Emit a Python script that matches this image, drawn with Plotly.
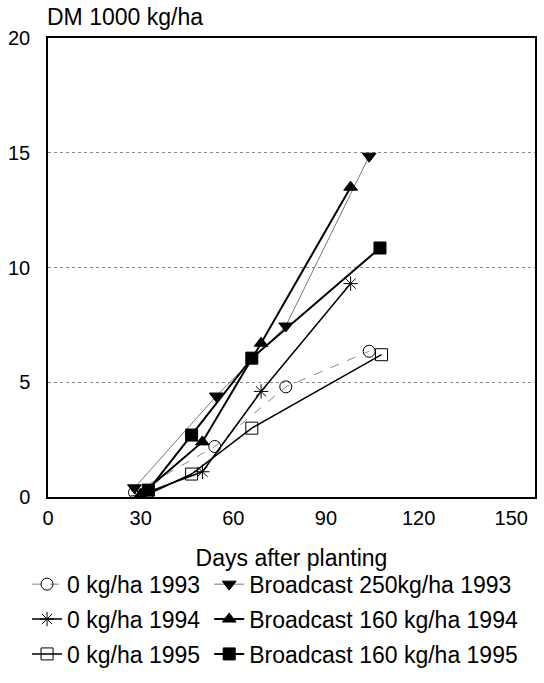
import plotly.graph_objects as go

# Data
days_0_1993 = [28, 54, 77, 104]
dm_0_1993 = [0.2, 2.2, 4.8, 6.35]
days_0_1994 = [29, 50, 69, 98]
dm_0_1994 = [0.05, 1.1, 4.6, 9.3]
days_0_1995 = [32, 46.5, 66, 108]
dm_0_1995 = [0.1, 1.0, 3.0, 6.2]
days_b250_1993 = [28, 54.5, 77, 104]
dm_b250_1993 = [0.4, 4.4, 7.45, 14.85]
days_b160_1994 = [30, 50, 69, 98]
dm_b160_1994 = [0.1, 2.4, 6.7, 13.5]
days_b160_1995 = [32.5, 46.5, 66, 107.5]
dm_b160_1995 = [0.3, 2.7, 6.05, 10.85]

x_ticks = [0, 30, 60, 90, 120, 150]
y_ticks = [0, 5, 10, 15, 20]

FONT = "Liberation Sans, Arial, sans-serif"

series = [
    ("0 kg/ha 1993", days_0_1993, dm_0_1993, "circle-open", dict(color="#888", width=1, dash="dash"), "legend"),
    ("Broadcast 250kg/ha 1993", days_b250_1993, dm_b250_1993, "triangle-down", dict(color="#777", width=1), "legend2"),
    ("0 kg/ha 1994", days_0_1994, dm_0_1994, "asterisk-open", dict(color="black", width=1.5), "legend3"),
    ("Broadcast 160 kg/ha 1994", days_b160_1994, dm_b160_1994, "triangle-up", dict(color="black", width=2), "legend4"),
    ("0 kg/ha 1995", days_0_1995, dm_0_1995, "square-open", dict(color="black", width=1.5), "legend5"),
    ("Broadcast 160 kg/ha 1995", days_b160_1995, dm_b160_1995, "square", dict(color="black", width=2), "legend6"),
]

fig = go.Figure()
for name, xs, ys, sym, line, lg in series:
    fig.add_trace(go.Scatter(
        x=xs, y=ys, name=name, mode="lines+markers",
        line=line,
        marker=dict(symbol=sym, size=12, color="black",
                    line=dict(color="black", width=1)),
        legend=lg,
    ))

leg_common = dict(orientation="h", xanchor="left", yanchor="middle",
                  font=dict(family=FONT, size=23, color="black"),
                  bgcolor="rgba(0,0,0,0)", itemwidth=30)

col1 = -0.043
col2 = 0.331
rows = [-0.19, -0.266, -0.342]

fig.update_layout(
    width=544, height=683,
    margin=dict(l=48, r=7, t=38, b=185),
    plot_bgcolor="white", paper_bgcolor="white",
    font=dict(family=FONT, size=20, color="black"),
    showlegend=True,
    legend=dict(x=col1, y=rows[0], **leg_common),
    legend2=dict(x=col2, y=rows[0], **leg_common),
    legend3=dict(x=col1, y=rows[1], **leg_common),
    legend4=dict(x=col2, y=rows[1], **leg_common),
    legend5=dict(x=col1, y=rows[2], **leg_common),
    legend6=dict(x=col2, y=rows[2], **leg_common),
    xaxis=dict(range=[0, 157.7], tickvals=x_ticks, showgrid=False,
               showline=True, linecolor="black", linewidth=1.5, mirror=True,
               ticks="", ticklen=0, zeroline=False, ticklabelstandoff=2,
               tickfont=dict(size=20),
               title=dict(text="Days after planting", font=dict(size=23), standoff=22)),
    yaxis=dict(range=[0, 20], tickvals=y_ticks, showgrid=True,
               gridcolor="#888", griddash="dot", gridwidth=1,
               showline=True, linecolor="black", linewidth=1.5, mirror=True,
               ticks="", ticklen=0, zeroline=False, ticklabelstandoff=12,
               tickfont=dict(size=20)),
    annotations=[dict(text="DM 1000 kg/ha", xref="paper", yref="paper",
                      x=-0.006, y=1.0, xanchor="left", yanchor="bottom",
                      yshift=6, showarrow=False, font=dict(size=23))],
)

fig.write_html("out.html")
